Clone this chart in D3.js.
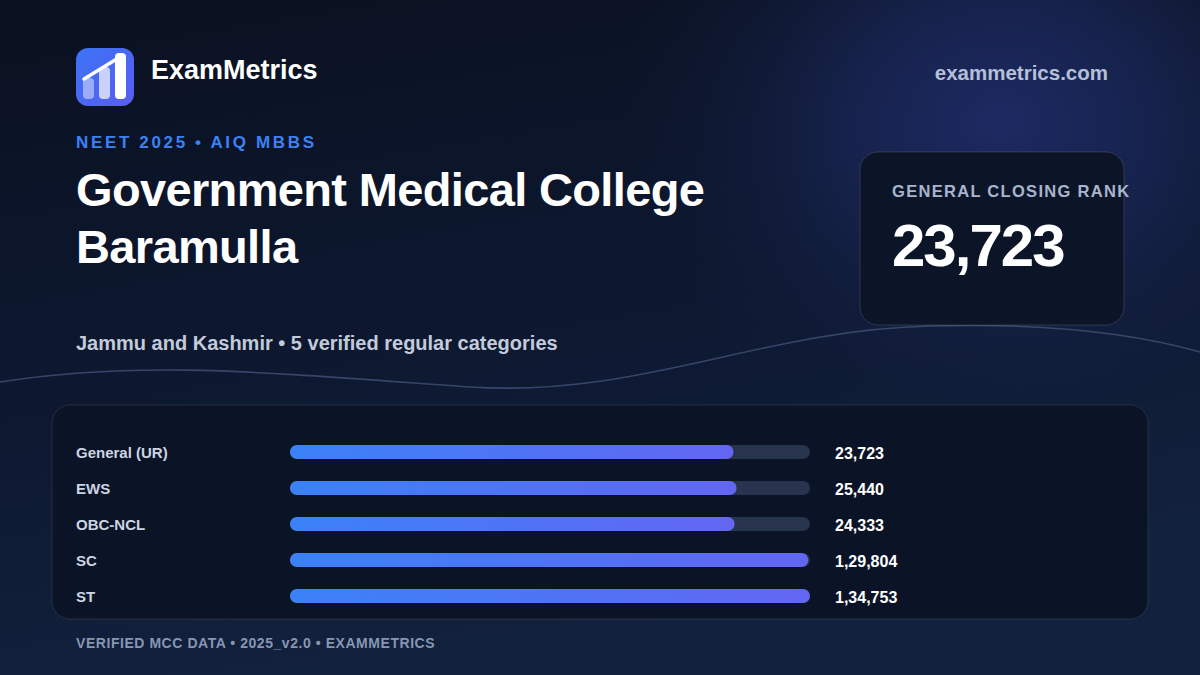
<!DOCTYPE html>
<html>
<head>
<meta charset="utf-8">
<script src="https://cdn.jsdelivr.net/npm/d3@7"></script>
<style>
  html, body { margin: 0; padding: 0; background: #0a1120; }
  svg { display: block; font-family: "Liberation Sans", Arial, sans-serif; }
</style>
</head>
<body>
<div id="chart"></div>
<script>
// data
var categories = ['General (UR)', 'EWS', 'OBC-NCL', 'SC', 'ST'];
var closingRanks = [23723, 25440, 24333, 129804, 134753];
var brand = 'ExamMetrics';
var site = 'exammetrics.com';
var kicker = 'NEET 2025 • AIQ MBBS';
var titleLines = ['Government Medical College', 'Baramulla'];
var subtitle = 'Jammu and Kashmir • 5 verified regular categories';
var cardLabel = 'GENERAL CLOSING RANK';
var footer = 'VERIFIED MCC DATA • 2025_v2.0 • EXAMMETRICS';

var W = 1200, H = 675;
var fmt = function (v) { return v.toLocaleString('en-IN'); };

var svg = d3.select('#chart').append('svg')
    .attr('width', W)
    .attr('height', H);

var defs = svg.append('defs');

// background
var bg = defs.append('linearGradient').attr('id', 'bg')
    .attr('x1', 0).attr('y1', 0).attr('x2', 0.3).attr('y2', 1);
bg.append('stop').attr('offset', '0%').attr('stop-color', '#0a1120');
bg.append('stop').attr('offset', '55%').attr('stop-color', '#0d1830');
bg.append('stop').attr('offset', '100%').attr('stop-color', '#12213d');

var glow = defs.append('radialGradient').attr('id', 'glow')
    .attr('cx', 0.5).attr('cy', 0.5).attr('r', 0.5);
glow.append('stop').attr('offset', '0%').attr('stop-color', '#222f70').attr('stop-opacity', 0.8);
glow.append('stop').attr('offset', '40%').attr('stop-color', '#1d2a62').attr('stop-opacity', 0.6);
glow.append('stop').attr('offset', '75%').attr('stop-color', '#16224a').attr('stop-opacity', 0.25);
glow.append('stop').attr('offset', '100%').attr('stop-color', '#111c3a').attr('stop-opacity', 0);

var logoGrad = defs.append('linearGradient').attr('id', 'logoGrad')
    .attr('x1', 0).attr('y1', 0).attr('x2', 1).attr('y2', 1);
logoGrad.append('stop').attr('offset', '0%').attr('stop-color', '#3b74f6');
logoGrad.append('stop').attr('offset', '100%').attr('stop-color', '#5a5cf0');

var barGrad = defs.append('linearGradient').attr('id', 'barGrad')
    .attr('x1', 0).attr('y1', 0).attr('x2', 1).attr('y2', 0);
barGrad.append('stop').attr('offset', '0%').attr('stop-color', '#3b82f6');
barGrad.append('stop').attr('offset', '100%').attr('stop-color', '#6366f1');

svg.append('rect').attr('width', W).attr('height', H).attr('fill', 'url(#bg)');
svg.append('ellipse')
    .attr('cx', 1000).attr('cy', 120).attr('rx', 380).attr('ry', 320)
    .attr('fill', 'url(#glow)');

// decorative wave
svg.append('path')
    .attr('d', 'M0,382 C140,360 260,372 470,387 C640,398 760,330 930,326 C1040,323 1130,332 1200,352')
    .attr('fill', 'none')
    .attr('stroke', '#3e4e72')
    .attr('stroke-opacity', 0.85)
    .attr('stroke-width', 1.6);

// logo
var logo = svg.append('g').attr('transform', 'translate(76,48)');
logo.append('rect').attr('width', 58).attr('height', 58).attr('rx', 12).attr('fill', 'url(#logoGrad)');
logo.append('rect').attr('x', 7).attr('y', 30).attr('width', 11).attr('height', 21).attr('rx', 4)
    .attr('fill', '#fff').attr('fill-opacity', 0.45);
logo.append('rect').attr('x', 23).attr('y', 19).attr('width', 11).attr('height', 32).attr('rx', 4)
    .attr('fill', '#fff').attr('fill-opacity', 0.7);
logo.append('rect').attr('x', 39).attr('y', 5).attr('width', 11).attr('height', 46).attr('rx', 4)
    .attr('fill', '#fff');
logo.append('line').attr('x1', 8).attr('y1', 31).attr('x2', 44).attr('y2', 9)
    .attr('stroke', '#fff').attr('stroke-width', 3.5).attr('stroke-linecap', 'round');

svg.append('text').attr('x', 151).attr('y', 79)
    .attr('font-size', 27).attr('font-weight', 700).attr('fill', '#ffffff')
    .text(brand);

svg.append('text').attr('x', 1108).attr('y', 80).attr('text-anchor', 'end')
    .attr('font-size', 20.5).attr('font-weight', 700).attr('fill', '#b4c0d8')
    .text(site);

// headings
svg.append('text').attr('x', 76).attr('y', 148)
    .attr('font-size', 17).attr('font-weight', 700).attr('fill', '#3b82f6')
    .attr('letter-spacing', 2.65)
    .text(kicker);

svg.append('g').selectAll('text')
    .data(titleLines)
    .enter()
    .append('text')
    .attr('x', 76)
    .attr('y', (d, i) => 206 + i * 57)
    .attr('font-size', 47).attr('font-weight', 700).attr('fill', '#ffffff')
    .attr('letter-spacing', -0.65)
    .text(d => d);

svg.append('text').attr('x', 76).attr('y', 350)
    .attr('font-size', 20).attr('font-weight', 700).attr('fill', '#c3cbdb')
    .text(subtitle);

// closing rank card
var card = svg.append('g').attr('transform', 'translate(860,152)');
card.append('rect').attr('width', 264).attr('height', 173).attr('rx', 18)
    .attr('fill', '#0c1528')
    .attr('stroke', '#ffffff').attr('stroke-opacity', 0.13);
card.append('text').attr('x', 32).attr('y', 45)
    .attr('font-size', 16.5).attr('font-weight', 700).attr('fill', '#a8b5cc').attr('letter-spacing', 1.3)
    .text(cardLabel);
card.append('text').attr('x', 32).attr('y', 114)
    .attr('font-size', 60).attr('font-weight', 700).attr('fill', '#ffffff')
    .attr('letter-spacing', -2)
    .text(fmt(closingRanks[0]));

// bar panel
svg.append('rect')
    .attr('x', 52).attr('y', 405).attr('width', 1096).attr('height', 214).attr('rx', 18)
    .attr('fill', '#0b1426')
    .attr('stroke', '#ffffff').attr('stroke-opacity', 0.1);

var x = d3.scaleLog()
    .domain([1, d3.max(closingRanks)])
    .range([290, 810]);

var y = d3.scaleBand()
    .domain(categories)
    .range([434, 614])
    .paddingInner(0);

var barH = 14;
var rows = svg.append('g').selectAll('g')
    .data(categories)
    .enter()
    .append('g')
    .attr('transform', d => `translate(0,${y(d) + y.bandwidth() / 2})`);

rows.append('text')
    .attr('x', 76).attr('y', 1).attr('dy', '0.35em')
    .attr('font-size', 15).attr('font-weight', 700).attr('fill', '#cdd5e3')
    .text(d => d);

rows.append('rect')
    .attr('x', x.range()[0]).attr('y', -barH / 2)
    .attr('width', x.range()[1] - x.range()[0]).attr('height', barH).attr('rx', barH / 2)
    .attr('fill', '#28344d');

rows.append('rect')
    .attr('x', x.range()[0]).attr('y', -barH / 2)
    .attr('width', (d, i) => x(closingRanks[i]) - x.range()[0])
    .attr('height', barH).attr('rx', barH / 2)
    .attr('fill', 'url(#barGrad)');

rows.append('text')
    .attr('x', 835).attr('y', 1).attr('dy', '0.35em')
    .attr('font-size', 16).attr('font-weight', 700).attr('fill', '#ffffff')
    .text((d, i) => fmt(closingRanks[i]));

// footer
svg.append('text').attr('x', 76).attr('y', 648)
    .attr('font-size', 14).attr('font-weight', 700).attr('fill', '#8696b3')
    .attr('letter-spacing', 0.55)
    .text(footer);
</script>
</body>
</html>
